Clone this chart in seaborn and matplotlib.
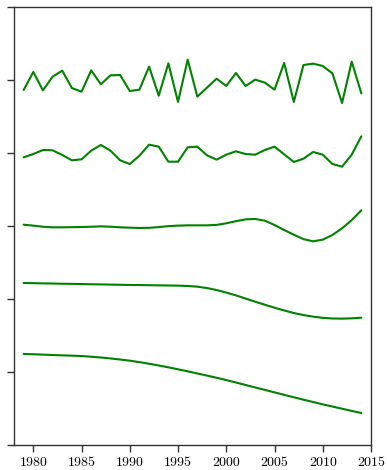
import numpy as np
import pandas as pd
import matplotlib
matplotlib.use("Agg")
import matplotlib.pyplot as plt
import seaborn as sns

years = list(range(1979, 2015))

# raw series and successively smoother components, each on its own level
raw = [4.863, 5.110, 4.858, 5.046, 5.128, 4.890, 4.840, 5.132, 4.941, 5.064,
       5.068, 4.849, 4.868, 5.183, 4.785, 5.228, 4.699, 5.279, 4.772, 4.895,
       5.018, 4.918, 5.096, 4.918, 5.005, 4.964, 4.868, 5.233, 4.699, 5.205,
       5.224, 5.192, 5.091, 4.685, 5.251, 4.817]
detail = [3.941, 3.986, 4.041, 4.037, 3.973, 3.900, 3.913, 4.032, 4.110, 4.032,
          3.900, 3.849, 3.963, 4.114, 4.087, 3.881, 3.881, 4.078, 4.087, 3.968,
          3.909, 3.977, 4.023, 3.986, 3.977, 4.041, 4.087, 3.982, 3.877, 3.922,
          4.014, 3.977, 3.849, 3.813, 3.977, 4.228]
smooth1 = [3.018, 3.005, 2.990, 2.982, 2.982, 2.984, 2.986, 2.990, 2.995, 2.990,
           2.982, 2.977, 2.973, 2.975, 2.985, 2.998, 3.005, 3.009, 3.009, 3.009,
           3.015, 3.037, 3.066, 3.091, 3.096, 3.073, 3.014, 2.945, 2.881, 2.820,
           2.790, 2.813, 2.877, 2.968, 3.080, 3.215]
smooth2 = [2.219, 2.217, 2.214, 2.212, 2.209, 2.207, 2.205, 2.202, 2.200, 2.197,
           2.195, 2.192, 2.191, 2.189, 2.187, 2.185, 2.183, 2.178, 2.169, 2.150,
           2.123, 2.088, 2.050, 2.006, 1.963, 1.921, 1.881, 1.843, 1.808, 1.780,
           1.758, 1.742, 1.733, 1.731, 1.735, 1.744]
trend = [1.247, 1.243, 1.238, 1.233, 1.228, 1.224, 1.219, 1.209, 1.199, 1.186,
         1.171, 1.155, 1.135, 1.113, 1.089, 1.064, 1.037, 1.009, 0.980, 0.951,
         0.921, 0.890, 0.856, 0.822, 0.788, 0.755, 0.721, 0.687, 0.654, 0.621,
         0.589, 0.557, 0.527, 0.497, 0.467, 0.438]

xticks = [1980, 1985, 1990, 1995, 2000, 2005, 2010, 2015]
yticks = [0, 1, 2, 3, 4, 5, 6]

df = pd.DataFrame({"year": years, "raw": raw, "detail": detail,
                   "smooth1": smooth1, "smooth2": smooth2, "trend": trend})
long = df.melt(id_vars="year", var_name="component", value_name="value")

sns.set_style("ticks")
plt.rcParams["font.family"] = ["cmr10", "DejaVu Serif"]
plt.rcParams["axes.formatter.use_mathtext"] = True

fig = plt.figure(figsize=(3.87, 4.70), dpi=100)
ax = fig.add_axes([14 / 387, 25 / 470, 357 / 387, 438 / 470])

sns.lineplot(data=long, x="year", y="value", hue="component",
             palette=["green"] * 5, linewidth=1.5, legend=False, ax=ax)

ax.set_xlim(1978, 2015)
ax.set_ylim(0, 6)
ax.set_xticks(xticks)
ax.set_xticklabels([str(t) for t in xticks])
ax.set_yticks(yticks)
ax.set_yticklabels([])
ax.set_xlabel("")
ax.set_ylabel("")
for s in ax.spines.values():
    s.set_visible(True)
    s.set_color("#333333")
    s.set_linewidth(1.0)
ax.tick_params(axis="both", length=5, width=1, color="#333333",
               labelsize=10, labelcolor="black")

fig.savefig("out.png", dpi=100)
